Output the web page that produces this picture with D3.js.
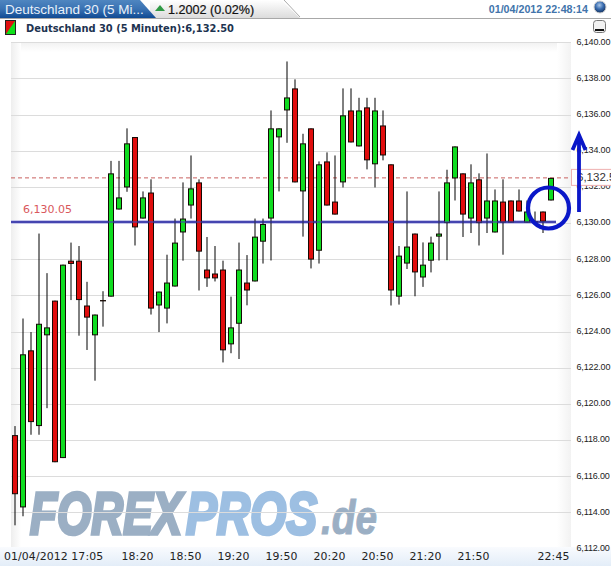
<!DOCTYPE html>
<html><head><meta charset="utf-8">
<script src="https://cdn.jsdelivr.net/npm/d3@7"></script>
<style>html,body{margin:0;padding:0;background:#fff;overflow:hidden}svg{display:block}</style>
</head><body><svg id="c" width="611" height="566"></svg>
<script>
const highs=[6118.77,6124.72,6123.97,6129.42,6127.23,6125.71,6127.70,6128.92,6128.73,6126.75,6124.94,6126.23,6133.44,6133.44,6135.24,6134.76,6131.75,6132.42,6126.21,6128.25,6130.25,6132.25,6133.74,6132.42,6129.23,6128.73,6127.92,6125.93,6128.92,6128.23,6130.25,6130.25,6136.23,6135.24,6138.94,6137.95,6134.94,6135.24,6133.41,6133.91,6133.74,6137.45,6137.45,6136.93,6136.93,6136.93,6136.23,6133.25,6128.73,6131.75,6129.42,6128.93,6129.25,6131.75,6132.95,6134.24,6132.75,6133.25,6132.75,6133.85,6131.86,6132.42,6131.25,6131.86,6131.25,6130.64,6130.64,6132.50];
const opens=[6118.27,6114.27,6122.96,6118.77,6123.79,6125.71,6117.00,6127.92,6127.92,6125.44,6123.79,6125.74,6125.93,6130.75,6131.97,6134.76,6130.25,6131.69,6125.44,6125.27,6126.49,6129.48,6130.97,6132.25,6127.43,6127.21,6127.43,6123.29,6124.43,6126.71,6126.77,6128.97,6130.25,6134.74,6136.23,6137.45,6131.75,6135.24,6128.47,6133.41,6131.19,6132.25,6136.23,6134.24,6136.40,6133.25,6135.40,6133.25,6125.93,6127.76,6129.42,6126.99,6127.92,6129.25,6130.00,6132.47,6132.75,6130.25,6132.42,6130.25,6129.48,6131.19,6131.25,6131.25,6130.03,6130.10,6130.64,6131.25];
const closes=[6115.00,6122.74,6118.99,6124.43,6124.23,6116.77,6127.70,6127.74,6125.74,6124.77,6124.94,6125.74,6132.75,6131.42,6134.41,6129.76,6131.42,6125.27,6126.21,6126.71,6128.92,6130.25,6131.92,6128.42,6126.94,6126.94,6122.96,6124.23,6127.43,6126.27,6129.25,6129.95,6135.24,6135.24,6136.95,6132.25,6134.41,6127.98,6133.25,6130.97,6130.47,6135.96,6134.46,6136.23,6133.47,6136.23,6133.74,6126.27,6128.20,6128.70,6127.27,6127.70,6128.92,6129.42,6132.25,6134.24,6130.47,6132.25,6130.00,6131.25,6131.25,6130.03,6130.03,6130.64,6130.64,6130.10,6130.08,6132.50];
const lows=[6113.28,6113.78,6118.29,6118.29,6119.76,6116.77,6117.00,6125.74,6123.77,6122.98,6121.28,6124.27,6125.93,6130.75,6131.73,6128.76,6130.25,6124.94,6123.97,6124.45,6126.49,6127.92,6130.25,6126.27,6126.47,6126.77,6122.29,6122.80,6122.48,6125.45,6126.77,6127.76,6127.93,6131.75,6134.44,6132.25,6129.25,6127.49,6127.76,6130.97,6130.47,6131.97,6134.46,6134.24,6132.97,6131.97,6133.47,6125.44,6125.49,6127.46,6125.95,6126.47,6127.27,6127.93,6127.95,6131.25,6129.23,6129.45,6128.76,6129.45,6129.48,6128.25,6130.03,6130.64,6130.03,6130.00,6129.45,6131.25];
const yTicks=d3.range(6112,6141,2);
const timeIndex=[0,15,21,27,33,39,45,51,57,67];
const timeLabels=["01/04/2012 17:05","18:20","18:50","19:20","19:50","20:20","20:50","21:20","21:50","22:45"];
const refLevel=6130.05, lastClose=6132.50;

const svg=d3.select("#c");
const defs=svg.append("defs");
function grad(id,x2,y2,stops){const g=defs.append("linearGradient").attr("id",id).attr("x1",0).attr("y1",0).attr("x2",x2).attr("y2",y2);
 stops.forEach(s=>g.append("stop").attr("offset",s[0]).attr("stop-color",s[1]));}
grad("tab",0,1,[[0,"#4f86c0"],[.5,"#3a72b3"],[1,"#0f4a93"]]);
grad("tabbg",0,1,[[0,"#ffffff"],[1,"#dcdcdc"]]);
grad("left",1,0,[[0,"#eeeeee"],[1,"#ffffff"]]);
grad("top",0,1,[[0,"#f1f1f1"],[1,"#ffffff"]]);
grad("right",1,0,[[0,"#ffffff"],[1,"#f2f2f2"]]);
grad("bot",0,1,[[0,"#f9fbfe"],[1,"#e3edf8"]]);
const gl=defs.append("radialGradient").attr("id","globe").attr("cx",.45).attr("cy",.35).attr("r",.65);
gl.append("stop").attr("offset",0).attr("stop-color","#a9c6e8");gl.append("stop").attr("offset",.5).attr("stop-color","#3a6db0");gl.append("stop").attr("offset",1).attr("stop-color","#12305f");

const x=d3.scalePoint().domain(d3.range(highs.length)).range([15,551]);
const y=d3.scaleLinear().domain([6114,6140]).range([512.3,42.3]);
const SANS="'Liberation Sans',Arial,sans-serif", DV="'DejaVu Sans',Verdana,sans-serif";

// header
svg.append("path").attr("d","M281,0L300,18L150,18L150,0Z").attr("fill","url(#tabbg)");
svg.append("path").attr("d","M284,0L300,17").attr("stroke","#aaa").attr("fill","none");
svg.append("line").attr("x1",0).attr("x2",611).attr("y1",18.5).attr("y2",18.5).attr("stroke","#a8a8a8");
svg.append("path").attr("d","M0,0L140,0L156,18L0,18Z").attr("fill","url(#tab)");
svg.append("text").attr("x",5).attr("y",13.5).attr("fill","#e9f1fa").attr("font-family",SANS).attr("font-size",13.5).text("Deutschland 30 (5 Mi...");
svg.append("path").attr("d","M155,11L160,5L165,11Z").attr("fill","#2f9a45");
svg.append("text").attr("x",168).attr("y",13.5).attr("fill","#111").attr("font-family",SANS).attr("font-size",12.6).attr("stroke","#111").attr("stroke-width",.2).text("1.2002 (0.02%)");
svg.append("text").attr("x",588).attr("y",12.5).attr("text-anchor","end").attr("fill","#4274ab").attr("font-family",SANS).attr("font-weight","bold").attr("font-size",10.7).text("01/04/2012 22:48:14");
svg.append("circle").attr("cx",600).attr("cy",7).attr("r",6).attr("fill","url(#globe)").attr("stroke","#ccc");
// legend row
svg.append("rect").attr("x",5.5).attr("y",20.5).attr("width",10).attr("height",14).attr("fill","#0ee01a").attr("stroke","#222");
svg.append("path").attr("d","M6,21L15,21L6,34Z").attr("fill","#e01010");
svg.append("text").attr("x",26).attr("y",32).attr("fill","#1d3350").attr("font-family",DV).attr("font-weight","bold").attr("font-size",9.9).text("Deutschland 30 (5 Minuten):6,132.50");
svg.append("rect").attr("x",593.5).attr("y",20.5).attr("width",12).attr("height",12).attr("rx",3).attr("fill","#f2f2f2").attr("stroke","#777");
svg.append("rect").attr("x",595).attr("y",29).attr("width",9).attr("height",2).attr("fill","#111");

// plot background
svg.append("rect").attr("x",11).attr("y",42).attr("width",560).attr("height",10).attr("fill","url(#top)");
svg.append("rect").attr("x",11).attr("y",42).attr("width",10).attr("height",505).attr("fill","url(#left)");
svg.append("rect").attr("x",557).attr("y",42).attr("width",14).attr("height",505).attr("fill","url(#right)");
svg.append("rect").attr("x",0).attr("y",547).attr("width",611).attr("height",19).attr("fill","url(#bot)");

// watermark
const wm=svg.append("g").attr("font-family",SANS).attr("font-weight","bold").attr("font-style","italic").attr("font-size",60);
[["FOREX",30,152,"#9bafc4"],["PROS",186,131,"#9dbfe2"]].forEach(d=>{
 wm.append("text").attr("x",d[1]).attr("y",533.5).attr("fill",d[3]).attr("stroke",d[3]).attr("stroke-width",3.6)
  .attr("textLength",d[2]).attr("lengthAdjust","spacingAndGlyphs").text(d[0]);});
wm.append("text").attr("x",321).attr("y",534).attr("fill","#9bafc4").attr("stroke","#9bafc4").attr("stroke-width",1).attr("font-size",48)
  .attr("textLength",56).attr("lengthAdjust","spacingAndGlyphs").text(".de");

// y axis with gridlines
const yAxis=d3.axisRight(y).tickValues(yTicks).tickFormat(d3.format(",.2f")).tickSize(0).tickPadding(0);
const ya=svg.append("g").attr("transform","translate(576.5,-1)").call(yAxis);
ya.select(".domain").remove();
ya.selectAll("text").attr("font-family",SANS).attr("font-size",9).attr("fill","#222").attr("letter-spacing",-.15);
svg.append("g").selectAll("line").data(yTicks.filter(v=>v>6112)).join("line")
 .attr("x1",11).attr("x2",571).attr("y1",d=>Math.round(y(d))+.5).attr("y2",d=>Math.round(y(d))+.5)
 .attr("stroke","#dcdcdc");

// x axis
const xa=svg.append("g").attr("transform","translate(2,552.5)")
 .call(d3.axisBottom(x).tickValues(timeIndex).tickFormat(d=>timeLabels[timeIndex.indexOf(d)]).tickSize(0).tickPadding(0));
xa.select(".domain").remove();
xa.selectAll("text").attr("font-family",DV).attr("font-size",10.9).attr("fill","#222").attr("letter-spacing",.1);
xa.selectAll("text").filter(d=>d===0).attr("text-anchor","start").attr("x",-13.5);

// last price dashed line
svg.append("line").attr("x1",11).attr("x2",571).attr("y1",y(lastClose)).attr("y2",y(lastClose))
 .attr("stroke","#c9605f").attr("stroke-dasharray","4,3");
svg.append("rect").attr("x",571.5).attr("y",y(lastClose)-8.5).attr("width",50).attr("height",16).attr("fill","#fff").attr("stroke","#eeb0b0");
svg.append("text").attr("x",577).attr("y",y(lastClose)+3).attr("font-family",SANS).attr("font-size",11.5).attr("fill","#333").text(d3.format(",.2f")(lastClose));

// reference line
svg.append("line").attr("x1",11).attr("x2",556).attr("y1",222).attr("y2",222).attr("stroke","#c4c4ea").attr("stroke-width",4);
svg.append("line").attr("x1",11).attr("x2",556).attr("y1",222).attr("y2",222).attr("stroke","#4646b0").attr("stroke-width",2);
svg.append("text").attr("x",23).attr("y",213).attr("font-family",DV).attr("font-size",11).attr("fill","#d9585c").text(d3.format(",.2f")(refLevel));

// candles
const cg=svg.append("g").selectAll("g").data(d3.range(highs.length)).join("g");
cg.append("line").attr("x1",i=>x(i)).attr("x2",i=>x(i)).attr("y1",i=>y(highs[i])).attr("y2",i=>y(lows[i])).attr("stroke","#000").attr("stroke-width",1);
cg.append("rect")
 .attr("x",i=>x(i)-2.5).attr("width",5)
 .attr("y",i=>y(Math.max(opens[i],closes[i]))+.5)
 .attr("height",i=>Math.max(y(Math.min(opens[i],closes[i]))-y(Math.max(opens[i],closes[i]))-1,.3))
 .attr("fill",i=>closes[i]>opens[i]?"#0fdc20":"#e00d0d")
 .attr("stroke","#140a05").attr("stroke-width",1);
// translucent overlay of the reference line across the candles
svg.append("line").attr("x1",11).attr("x2",556).attr("y1",222).attr("y2",222).attr("stroke","#4646b0").attr("stroke-width",2).attr("stroke-opacity",.55);

// annotations
svg.append("ellipse").attr("cx",548.5).attr("cy",208).attr("rx",20.5).attr("ry",20.5).attr("fill","none").attr("stroke","#0a17c8").attr("stroke-width",4.2);
svg.append("path").attr("d","M579,212L579,137M572.5,150L579,135L585.5,150").attr("fill","none").attr("stroke","#0a17c8").attr("stroke-width",3.8);
</script></body></html>
